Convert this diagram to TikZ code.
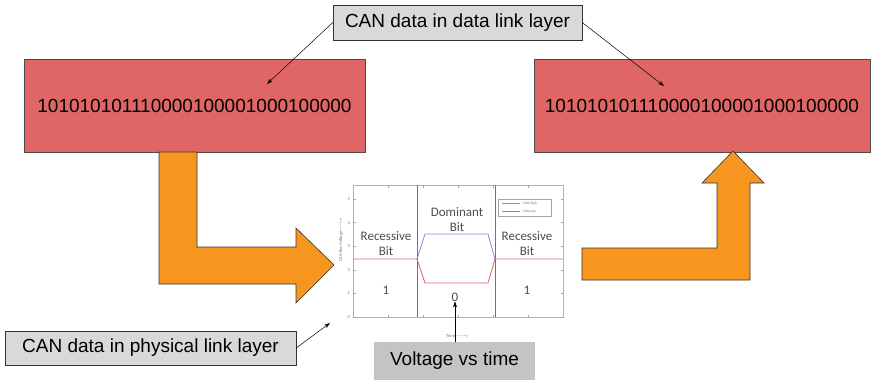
\documentclass[tikz,border=0pt]{standalone}
\usepackage{fontspec}
\setmainfont{Liberation Sans}
\newfontfamily\plotfont{Carlito}
\usetikzlibrary{arrows.meta}
\definecolor{datared}{HTML}{E06666}
\definecolor{busorange}{HTML}{F6961F}
\definecolor{labelgray}{HTML}{D9D9D9}
\definecolor{notegray}{HTML}{C4C4C4}
\definecolor{highblue}{HTML}{8585E6}
\definecolor{lowred}{HTML}{E0607E}

\begin{document}
\begin{tikzpicture}[x=1pt, y=-1pt,
    databox/.style={draw=black!70, fill=datared, inner sep=0pt, minimum height=93pt, font=\fontsize{19}{22}\selectfont},
    layerlabel/.style={draw=black!80, fill=labelgray, inner sep=0pt, font=\fontsize{19}{22}\selectfont},
    pointer/.style={-{Stealth[length=6pt,width=4pt]}, line width=0.5pt},
    bigarrow/.style={draw=black!80, fill=busorange, line width=0.6pt},
    plottext/.style={font=\plotfont\fontsize{13}{14}\selectfont, text=black!70, align=center, inner sep=0pt},
    tinytext/.style={font=\plotfont\fontsize{4.5}{5}\selectfont, text=black!55, inner sep=0pt}]
    \useasboundingbox (0,0) rectangle (871,380);

    % Data link layer boxes
    \node (txframe) [databox, minimum width=341pt] at (194.5,105.5) {101010101110000100001000100000};
    \node (rxframe) [databox, minimum width=336pt] at (702,105.5) {101010101110000100001000100000};

    % Bent arrows between layers
    \draw[bigarrow] (159,152) -- (197,152) -- (197,247) -- (296,247) -- (296,228) -- (334,265)
        -- (296,303) -- (296,284) -- (159,284) -- cycle;
    \draw[bigarrow] (582,248) -- (717,248) -- (717,183) -- (702,183) -- (733,151) -- (764,183)
        -- (750,183) -- (750,280) -- (582,280) -- cycle;

    % Voltage plot
    \draw[black!30, line width=0.6pt] (353,185) rectangle (563,317);
    \foreach \k in {0,...,5} {
        \draw[black!35, line width=0.4pt] (353,317-23.6*\k) -- (355.5,317-23.6*\k);
        \draw[black!35, line width=0.4pt] (563,317-23.6*\k) -- (560.5,317-23.6*\k);
        \node[tinytext, anchor=east] at (350,317-23.6*\k) {\k};
    }
    \foreach \t in {388,423,458,493,528} {
        \draw[black!35, line width=0.4pt] (\t,317) -- (\t,314.5);
        \draw[black!35, line width=0.4pt] (\t,185) -- (\t,187.5);
    }
    \draw[black!55, line width=0.9pt] (417,185) -- (417,317);
    \draw[black!55, line width=0.9pt] (495,185) -- (495,317);
    \draw[highblue, line width=0.8pt] (417,259) -- (425,234) -- (488,234) -- (495,259);
    \draw[lowred, line width=0.8pt] (353,259) -- (417,259) -- (425,283) -- (488,283) -- (495,259) -- (563,259);
    \node (ylabel) [tinytext, rotate=90] at (341,240) {CAN Bus Voltage——> v};
    \node (xlabel) [tinytext] at (457,336) {Time——> t};
    \draw[black!35, line width=0.4pt, fill=white] (498,199) rectangle (551,216);
    \draw[highblue, line width=0.6pt] (502,203.5) -- (520,203.5);
    \draw[lowred, line width=0.6pt] (502,211) -- (520,211);
    \node (hightxt) [tinytext, font=\plotfont\fontsize{3.5}{4}\selectfont, anchor=west] at (523,203.5) {CAN High};
    \node (lowtxt) [tinytext, font=\plotfont\fontsize{3.5}{4}\selectfont, anchor=west] at (523,211) {CAN Low};
    \node (recleft) [plottext] at (386,244) {Recessive\\[1pt]Bit};
    \node (domtxt) [plottext] at (457,220) {Dominant\\[1pt]Bit};
    \node (recright) [plottext] at (527,244) {Recessive\\[1pt]Bit};
    \node (oneleft) [plottext] at (386,290) {1};
    \node (zero) [plottext] at (455,297) {0};
    \node (oneright) [plottext] at (527,290) {1};

    % Layer labels
    \node (datalink) [layerlabel, minimum width=249pt, minimum height=35pt] at (457.5,22.5) {CAN data in data link layer};
    \node (physical) [layerlabel, minimum width=291pt, minimum height=34pt] at (150.5,348) {CAN data in physical link layer};
    \node (vtime) [fill=notegray, inner sep=0pt, minimum width=161pt, minimum height=38pt, font=\fontsize{19}{22}\selectfont] at (454.5,361) {Voltage vs time};
    \coordinate (txpoint) at (267,84);
    \coordinate (rxpoint) at (664,86);
    \coordinate (plotpoint) at (330,323);

    % Pointers
    \draw[pointer] (datalink.west) -- (txpoint);
    \draw[pointer] (datalink.east) -- (rxpoint);
    \draw[pointer] (physical.east) -- (plotpoint);
    \draw[pointer] (vtime.north -| zero.south) -- (zero.south);
\end{tikzpicture}
\end{document}
